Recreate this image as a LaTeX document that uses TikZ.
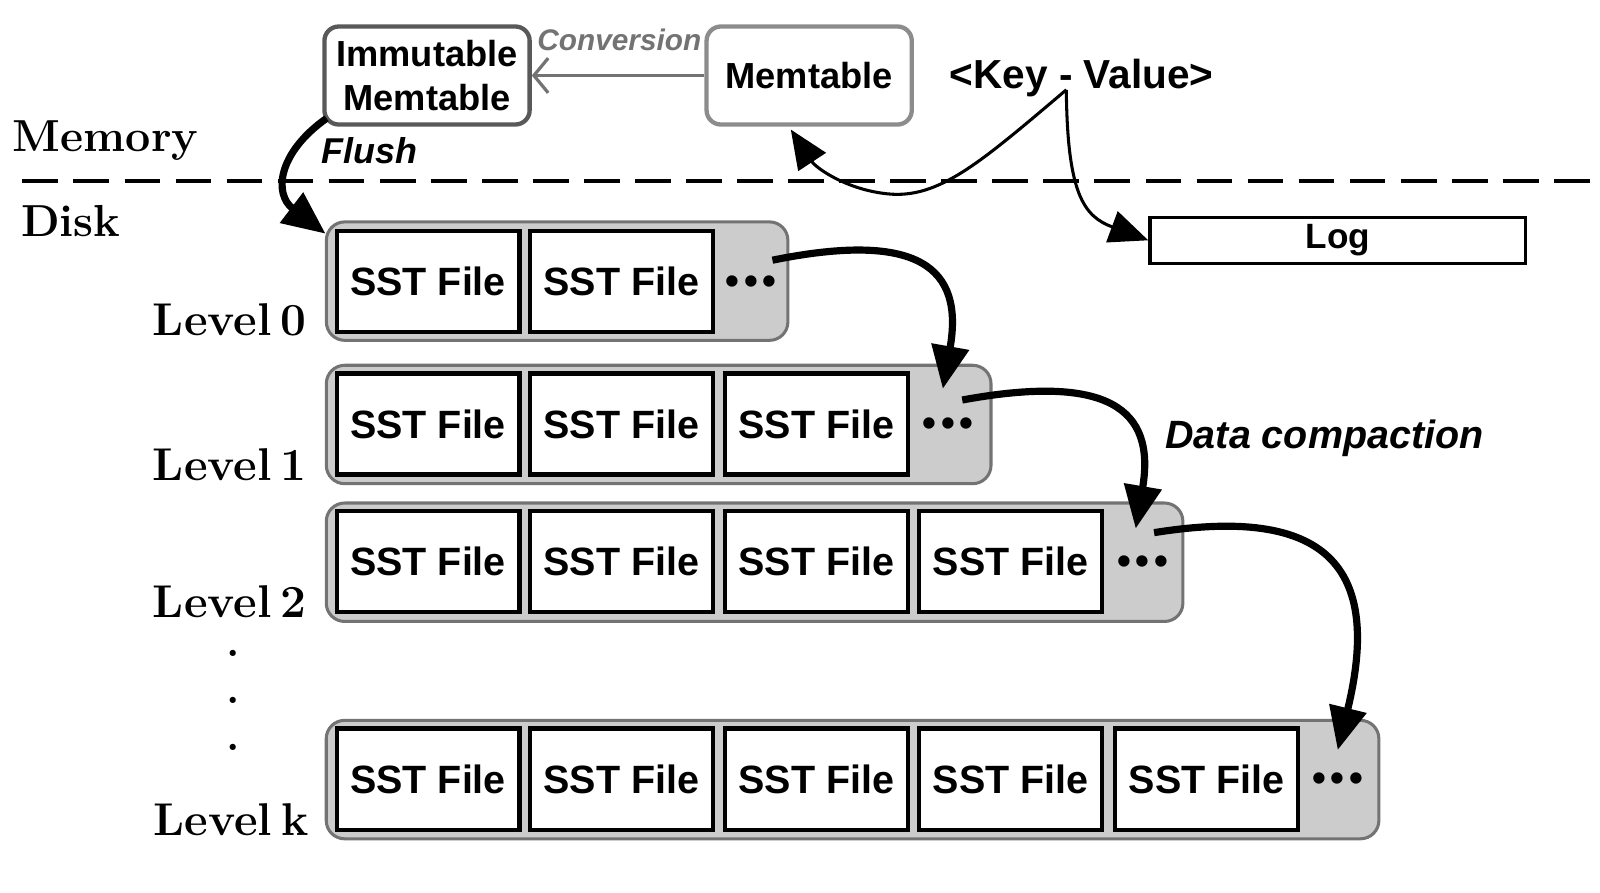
\documentclass[tikz,border=0pt]{standalone}
\usepackage{fontspec}
\newfontfamily\arial{Liberation Sans}
\usetikzlibrary{arrows.meta,calc}
\definecolor{lvlfill}{gray}{0.80}
\definecolor{lvlborder}{gray}{0.45}
\definecolor{immborder}{gray}{0.35}
\definecolor{memborder}{gray}{0.55}
\definecolor{convgray}{gray}{0.45}
\newcommand\tightsp{\spaceskip=0.2em\relax}
\newcommand\threedots{•\kern0.12em•\kern0.12em•}
\begin{document}
\begin{tikzpicture}[x=0.01cm,y=-0.01cm,
  sst/.style={draw=black, line width=1.15pt, fill=white, minimum width=1.79cm, minimum height=0.99cm, inner sep=0pt, font=\arial\bfseries\fontsize{11}{13}\selectfont},
  lvl/.style={draw=lvlborder, line width=0.85pt, fill=lvlfill, rounded corners=0.18cm, minimum height=1.16cm, inner sep=0pt},
  lvllabel/.style={anchor=east, inner sep=0pt, font=\bfseries\fontsize{12.8}{14}\selectfont\tightsp},
  sidelabel/.style={anchor=west, inner sep=0pt, font=\bfseries\fontsize{12.5}{14}\selectfont},
  dotsnode/.style={anchor=center, inner sep=0pt, font=\arial\bfseries\fontsize{11}{11}\selectfont},
  vdot/.style={inner sep=0pt, font=\bfseries\fontsize{12}{14}\selectfont},
  membox/.style={rounded corners=0.14cm, line width=1.2pt, fill=white, minimum width=2.01cm, minimum height=0.96cm, inner sep=0pt, align=center, font=\arial\bfseries\fontsize{10.1}{12.5}\selectfont},
  thickarrow/.style={line width=2pt, -{Triangle[length=0.42cm,width=0.36cm]}},
  thinarrow/.style={line width=0.85pt, -{Triangle[length=0.38cm,width=0.32cm]}},
  itlabel/.style={inner sep=0pt, font=\arial\bfseries\itshape\fontsize{11}{13}\selectfont}
]
\useasboundingbox (0,0) rectangle (1568,874.2);

% memory part
\node[membox, draw=immborder] (imm) at (418.5,74) {Immutable\\Memtable};
\node[membox, draw=memborder] (mem) at (793,74) {Memtable};
\draw[convgray, line width=0.9pt, -{Straight Barb[length=0.14cm,width=0.34cm,line width=0.9pt]}] (mem.west) -- (imm.east);
\node[inner sep=0pt, text=convgray, font=\arial\bfseries\itshape\fontsize{8.3}{10}\selectfont] (conv) at (607,39) {Conversion};

\node[inner sep=0pt, font=\arial\bfseries\fontsize{11.3}{13}\selectfont] (kv) at (1060,76) {<Key - Value>};
\node[draw=black, line width=0.9pt, fill=white, minimum width=3.68cm, minimum height=0.45cm, inner sep=0pt, font=\arial\bfseries\fontsize{9.8}{12}\selectfont] (log) at (1311,235.5) {Log};

% dashed separator
\coordinate (dl) at (22,177);
\coordinate (dr) at (1562,177);
\draw[line width=1.1pt, dash pattern=on 0.35cm off 0.15cm] (dl) -- (dr);
\node[sidelabel] (memory) at (12,138) {Memory};
\node[sidelabel] (disk) at (20,217) {Disk};

% levels
\node[lvl, minimum width=4.52cm] (L0) at (546,275.5) {};
\node[lvl, minimum width=6.51cm] (L1) at (645.5,416) {};
\node[lvl, minimum width=8.39cm] (L2) at (739.5,551) {};
\node[lvl, minimum width=10.31cm] (Lk) at (835.5,764) {};

\node[sst] (s00) at (419.5,275.5) {SST File};
\node[sst] (s01) at (609,275.5) {SST File};
\node[dotsnode] (d0) at (736,279) {\threedots};

\node[sst] (s10) at (419.5,415.5) {SST File};
\node[sst] (s11) at (609,415.5) {SST File};
\node[sst] (s12) at (800,415.5) {SST File};
\node[dotsnode] (d1) at (929,419) {\threedots};

\node[sst] (s20) at (419.5,550.5) {SST File};
\node[sst] (s21) at (609,550.5) {SST File};
\node[sst] (s22) at (800,550.5) {SST File};
\node[sst] (s23) at (990.5,550.5) {SST File};
\node[dotsnode] (d2) at (1120,554) {\threedots};

\node[sst] (sk0) at (419.5,763.5) {SST File};
\node[sst] (sk1) at (609,763.5) {SST File};
\node[sst] (sk2) at (800,763.5) {SST File};
\node[sst] (sk3) at (990.5,763.5) {SST File};
\node[sst] (sk4) at (1182.5,763.5) {SST File};
\node[dotsnode] (dk) at (1311,767) {\threedots};

\node[lvllabel] (ll0) at (301,313) {Level 0};
\node[lvllabel] (ll1) at (301,455) {Level 1};
\node[lvllabel] (ll2) at (301,590) {Level 2};
\node[lvllabel] (llk) at (303,803) {Level k};
\node[vdot] (v1) at (229,640) {.};
\node[vdot] (v2) at (229,686) {.};
\node[vdot] (v3) at (229,732) {.};

% flush
\coordinate (fs) at (320,116);
\coordinate (ft) at (319,229);
\draw[thickarrow] (fs) .. controls (272,150) and (268,190) .. (ft);
\node[itlabel, font=\arial\bfseries\itshape\fontsize{10}{12}\selectfont] (flush) at (362,148) {Flush};

% key-value arrows
\coordinate (kvp) at (1045,88);
\coordinate (memtip) at (775,127);
\draw[thinarrow] (kvp) .. controls (960,160) and (920,195) .. (870,190) .. controls (830,186) and (800,165) .. (memtip);
\draw[thinarrow] (kvp) .. controls (1046,190) and (1062,212) .. (log.west);

% compaction arrows
\coordinate (c0s) at (757,255);
\coordinate (c1t) at (924,381);
\coordinate (c1s) at (943,392);
\coordinate (c2t) at (1113,518);
\coordinate (c2s) at (1131,522);
\coordinate (ckt) at (1311,735);
\draw[thickarrow] (c0s) .. controls (900,226) and (945,262) .. (c1t);
\draw[thickarrow] (c1s) .. controls (1085,366) and (1133,400) .. (c2t);
\draw[thickarrow] (c2s) .. controls (1300,495) and (1355,555) .. (ckt);
\node[itlabel] (dc) at (1298,430) {Data compaction};
\end{tikzpicture}
\end{document}
